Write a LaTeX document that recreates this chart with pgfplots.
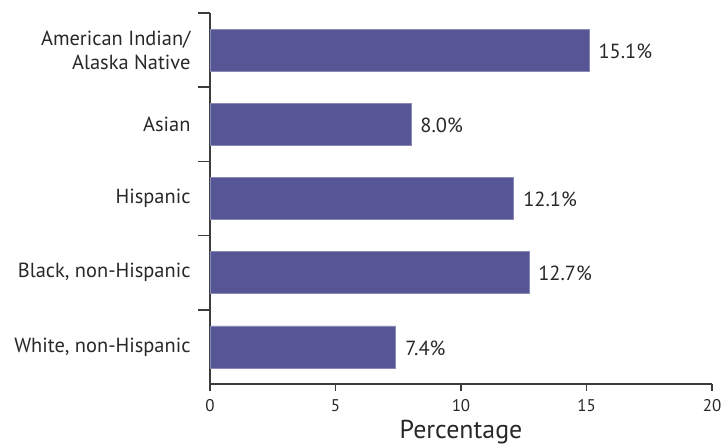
\documentclass[border=0pt]{standalone}
\usepackage{pgfplots}
\pgfplotsset{compat=1.18}
\usepackage{fontspec}
\setmainfont{PT Sans}
\definecolor{barblue}{RGB}{86,86,150}
\definecolor{txt}{RGB}{40,40,40}
\definecolor{axl}{RGB}{60,60,60}
\newcommand{\tl}[1]{\fontsize{17}{19}\selectfont #1}
\begin{document}
\begin{tikzpicture}
\begin{axis}[
  scale only axis,
  width=502bp, height=371bp,
  xbar, bar width=42bp,
  xmin=0, xmax=20,
  ymin=-0.5, ymax=4.5,
  axis x line=bottom, axis y line=left,
  axis line style={-, axl, line width=1.6bp},
  xtick={0,5,10,15,20},
  xticklabels={\tl{0},\tl{5},\tl{10},\tl{15},\tl{20}},
  ytick={0,1,2,3,4},
  yticklabels={White{,} non-Hispanic, Black{,} non-Hispanic, Hispanic, Asian, {American Indian/\\Alaska Native}},
  minor ytick={0.5,1.5,2.5,3.5,4.5},
  tick align=outside,
  major tick length=7bp,
  minor tick length=12bp,
  every tick/.style={axl, line width=1.4bp},
  major y tick style={draw=none},
  yticklabel style={align=right, font=\fontsize{20.5}{24}\selectfont, text=txt, xshift=-9bp},
  xticklabel style={text=txt, yshift=-5bp},
  /pgf/number format/assume math mode=true,
  xlabel={Percentage},
  xlabel style={font=\fontsize{26}{29}\selectfont, text=txt, yshift=-2bp},
  nodes near coords={\pgfmathprintnumber[fixed,fixed zerofill,precision=1]{\pgfplotspointmeta}\%},
  every node near coord/.append style={font=\fontsize{20.5}{24}\selectfont, text=txt, anchor=west, xshift=6bp, yshift=-1bp},
  clip=false,
]
\addplot[fill=barblue, draw=barblue!70!white, line width=0.5bp] coordinates {
  (7.4,0) (12.7,1) (12.1,2) (8.0,3) (15.1,4)
};
\end{axis}
\pgfresetboundingbox
\path[use as bounding box] (-210bp,-64bp) rectangle (511bp,384bp);
\end{tikzpicture}
\end{document}
